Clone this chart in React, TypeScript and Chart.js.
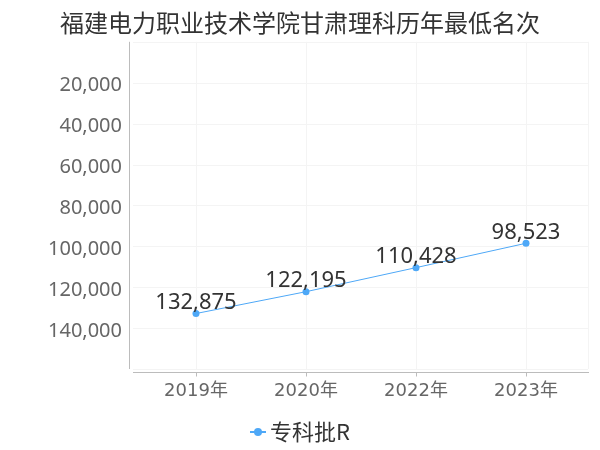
import React, { useEffect, useRef } from "react";
import { Chart, registerables } from "chart.js";

Chart.register(...registerables);

const titleText = "福建电力职业技术学院甘肃理科历年最低名次";
const categories = ["2019年", "2020年", "2022年", "2023年"];
const seriesName = "专科批R";
const seriesValues = [132875, 122195, 110428, 98523];
const yMin = 0;
const yMax = 160000;
const yStep = 20000;

const LINE_COLOR = "#4ea8f7";
const AXIS_COLOR = "#bcbcbc";
const GRID_COLOR = "#f4f4f4";
const XFONT = "'DejaVu Sans', 'Noto Sans CJK SC', sans-serif";
const NFONT = "'Noto Sans', 'Noto Sans CJK SC', sans-serif";
const CJK_FONT = "'Noto Sans CJK SC', 'Noto Sans', sans-serif";

const fmt = (v: number) => v.toLocaleString("en-US");

const customPlugin = {
  id: "customDecor",
  beforeDatasetsDraw(chart: any) {
    const { ctx, chartArea, scales } = chart;
    const x = scales.x;
    const y = scales.y;
    ctx.save();
    ctx.strokeStyle = GRID_COLOR;
    ctx.lineWidth = 1;
    y.ticks.forEach((t: any) => {
      const py = Math.round(y.getPixelForValue(t.value)) + 0.5;
      ctx.beginPath();
      ctx.moveTo(chartArea.left - 8, py);
      ctx.lineTo(chartArea.right + 7, py);
      ctx.stroke();
    });
    ctx.beginPath();
    ctx.moveTo(chartArea.right + 7.5, chartArea.top);
    ctx.lineTo(chartArea.right + 7.5, chartArea.bottom);
    ctx.stroke();
    ctx.strokeStyle = AXIS_COLOR;
    ctx.beginPath();
    ctx.moveTo(chartArea.left - 11.5, chartArea.top);
    ctx.lineTo(chartArea.left - 11.5, chartArea.bottom);
    ctx.stroke();
    const ay = Math.round(chartArea.bottom) + 3.5;
    ctx.beginPath();
    ctx.moveTo(chartArea.left - 8, ay);
    ctx.lineTo(chartArea.right + 8, ay);
    ctx.stroke();
    categories.forEach((_, i) => {
      const px = Math.round(x.getPixelForValue(i)) + 0.5;
      ctx.beginPath();
      ctx.moveTo(px, ay);
      ctx.lineTo(px, ay + 4);
      ctx.stroke();
    });
    ctx.restore();
  },
  afterDatasetsDraw(chart: any) {
    const { ctx } = chart;
    const meta = chart.getDatasetMeta(0);
    const data = chart.data.datasets[0].data as number[];
    ctx.save();
    ctx.font = `22px ${NFONT}`;
    ctx.fillStyle = "#333333";
    ctx.textAlign = "center";
    ctx.textBaseline = "alphabetic";
    meta.data.forEach((pt: any, i: number) => {
      ctx.fillText(fmt(data[i]), pt.x, pt.y - 4.5);
    });
    ctx.restore();
  },
  afterDraw(chart: any) {
    const { ctx } = chart;
    const ds = chart.data.datasets[0];
    ctx.save();
    const cy = 432;
    const cx = 258;
    ctx.strokeStyle = ds.borderColor;
    ctx.lineWidth = 2;
    ctx.beginPath();
    ctx.moveTo(cx - 8, cy);
    ctx.lineTo(cx + 8, cy);
    ctx.stroke();
    ctx.fillStyle = ds.borderColor;
    ctx.beginPath();
    ctx.arc(cx, cy, 4, 0, Math.PI * 2);
    ctx.fill();
    ctx.font = `22px ${CJK_FONT}`;
    ctx.fillStyle = "#333333";
    ctx.textAlign = "left";
    ctx.textBaseline = "middle";
    ctx.fillText(ds.label, cx + 12, cy);
    ctx.restore();
  },
};

export default function App() {
  const canvasRef = useRef<HTMLCanvasElement | null>(null);

  useEffect(() => {
    document.body.style.margin = "0";
    const canvas = canvasRef.current;
    if (!canvas) return;
    const chart = new Chart(canvas, {
      type: "line",
      data: {
        labels: categories,
        datasets: [
          {
            label: seriesName,
            data: seriesValues,
            borderColor: LINE_COLOR,
            backgroundColor: LINE_COLOR,
            borderWidth: 1,
            pointRadius: 3.5,
            pointHoverRadius: 3.5,
            pointBackgroundColor: LINE_COLOR,
            pointBorderWidth: 0,
            tension: 0,
          },
        ],
      },
      options: {
        animation: false,
        responsive: false,
        layout: { padding: { left: 19, right: 19, top: 0, bottom: 40 } },
        plugins: {
          legend: { display: false },
          tooltip: { enabled: false },
          title: {
            display: true,
            text: titleText,
            color: "#333333",
            font: { size: 24, family: CJK_FONT, weight: "normal" },
            padding: { top: 8, bottom: 5 },
          },
        },
        scales: {
          x: {
            type: "category",
            offset: true,
            grid: {
              display: true,
              offset: false,
              color: GRID_COLOR,
              drawTicks: false,
            },
            border: { display: false },
            ticks: {
              color: "#666666",
              font: { size: 18, family: XFONT },
              padding: 12,
            },
            afterFit(scale: any) {
              scale.height = 41;
            },
          },
          y: {
            type: "linear",
            reverse: true,
            min: yMin,
            max: yMax,
            grid: { display: false, drawTicks: false },
            border: { display: false },
            ticks: {
              stepSize: yStep,
              color: "#666666",
              font: { size: 20, family: NFONT },
              padding: 19,
              labelOffset: 3,
              callback: (v: any) => (v === yMin || v === yMax ? "" : fmt(Number(v))),
            },
            afterFit(scale: any) {
              scale.width = 122;
            },
          },
        },
      },
      plugins: [customPlugin],
    });
    return () => chart.destroy();
  }, []);

  return (
    <div style={{ width: 600, height: 450 }}>
      <canvas ref={canvasRef} width={600} height={450} style={{ display: "block" }} />
    </div>
  );
}
